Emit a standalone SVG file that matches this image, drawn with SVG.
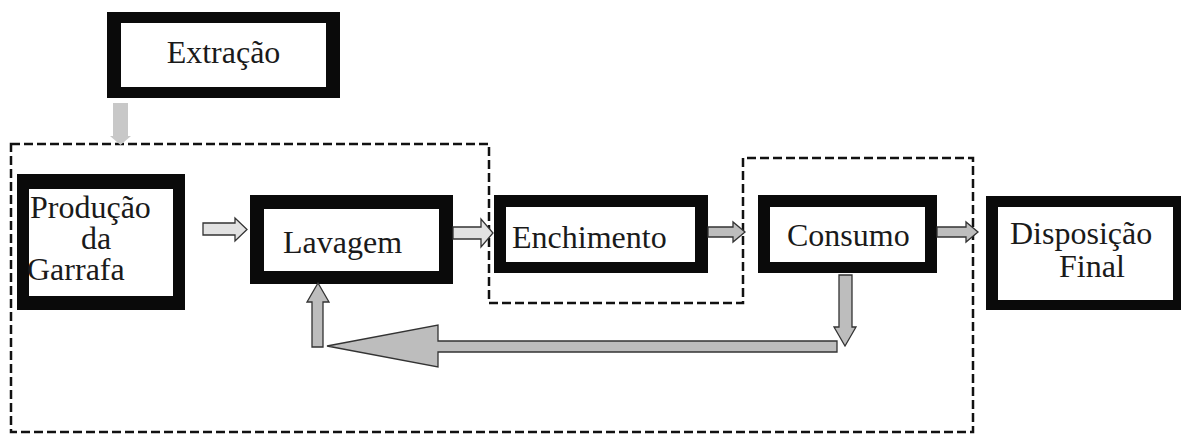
<svg xmlns="http://www.w3.org/2000/svg" width="1181" height="434" viewBox="0 0 1181 434">
<style>
.outer{fill:#0a0a0a}
.inner{fill:#ffffff}
.lbl{font-size:32px;fill:#1a1a1a}
.arr{fill:#bdbdbd;stroke:#333;stroke-width:1.3;stroke-linejoin:miter}
.arrl{fill:#e2e2e2;stroke:#333;stroke-width:1.3}
.dash{fill:none;stroke:#111;stroke-width:2.5;stroke-dasharray:9 4}
</style>
<rect width="1181" height="434" fill="#ffffff"/>
<g id="boundary">
<path class="dash" d="M11,144 H489 V303 H743 V158 H973 V432 H11 Z"/>
</g>
<g font-family="Liberation Serif, Times New Roman, DejaVu Serif, serif">
<g id="extracao">
<rect class="outer" x="107" y="12" width="233" height="86"/>
<rect class="inner" x="121" y="23" width="205" height="64"/>
<text class="lbl" x="223.5" y="63" text-anchor="middle">Extração</text>
</g>
<g id="producao">
<rect class="outer" x="17" y="174" width="168" height="136"/>
<rect class="inner" x="29" y="189" width="144" height="107"/>
<text class="lbl" x="30" y="218">Produção</text>
<text class="lbl" x="96" y="249" text-anchor="middle">da</text>
<text class="lbl" x="27" y="280">Garrafa</text>
</g>
<g id="lavagem">
<rect class="outer" x="250" y="195" width="203" height="89"/>
<rect class="inner" x="264" y="209" width="175" height="62"/>
<text class="lbl" x="283" y="253">Lavagem</text>
</g>
<g id="enchimento">
<rect class="outer" x="494" y="195" width="214" height="78"/>
<rect class="inner" x="506" y="207" width="189" height="55"/>
<text class="lbl" x="512" y="248">Enchimento</text>
</g>
<g id="consumo">
<rect class="outer" x="758" y="195" width="179" height="78"/>
<rect class="inner" x="770" y="207" width="155" height="55"/>
<text class="lbl" x="787" y="246">Consumo</text>
</g>
<g id="disposicao">
<rect class="outer" x="986" y="196" width="195" height="114"/>
<rect class="inner" x="998" y="207" width="175" height="93"/>
<text class="lbl" x="1010" y="244">Disposição</text>
<text class="lbl" x="1059" y="277">Final</text>
</g>
</g>
<g id="connectors">
<path d="M113,103 H128 V136 H131 L120.5,145 L110,136 H113 Z" fill="#c8c8c8"/>
<path class="arrl" d="M203,223 H235 V218 L247,229.5 L235,241 V235 H203 Z"/>
<path class="arrl" d="M453,227 H481 V219 L493,233 L481,247 V239 H453 Z"/>
<path class="arr" d="M708,227 H733 V222 L745,232 L733,242 V237 H708 Z"/>
<path class="arr" d="M937,227 H966 V222 L978,232 L966,242 V237 H937 Z"/>
<path class="arr" d="M839,275 H852 V327 H856 L845,346 L834,327 H839 Z"/>
<path class="arr" d="M837,341 V352 H438 V367 L327,346 L438,325 V341 Z"/>
<path class="arr" d="M312,347 V302 H307 L318,283 L329,302 H323 V347 Z"/>
</g>
</svg>
